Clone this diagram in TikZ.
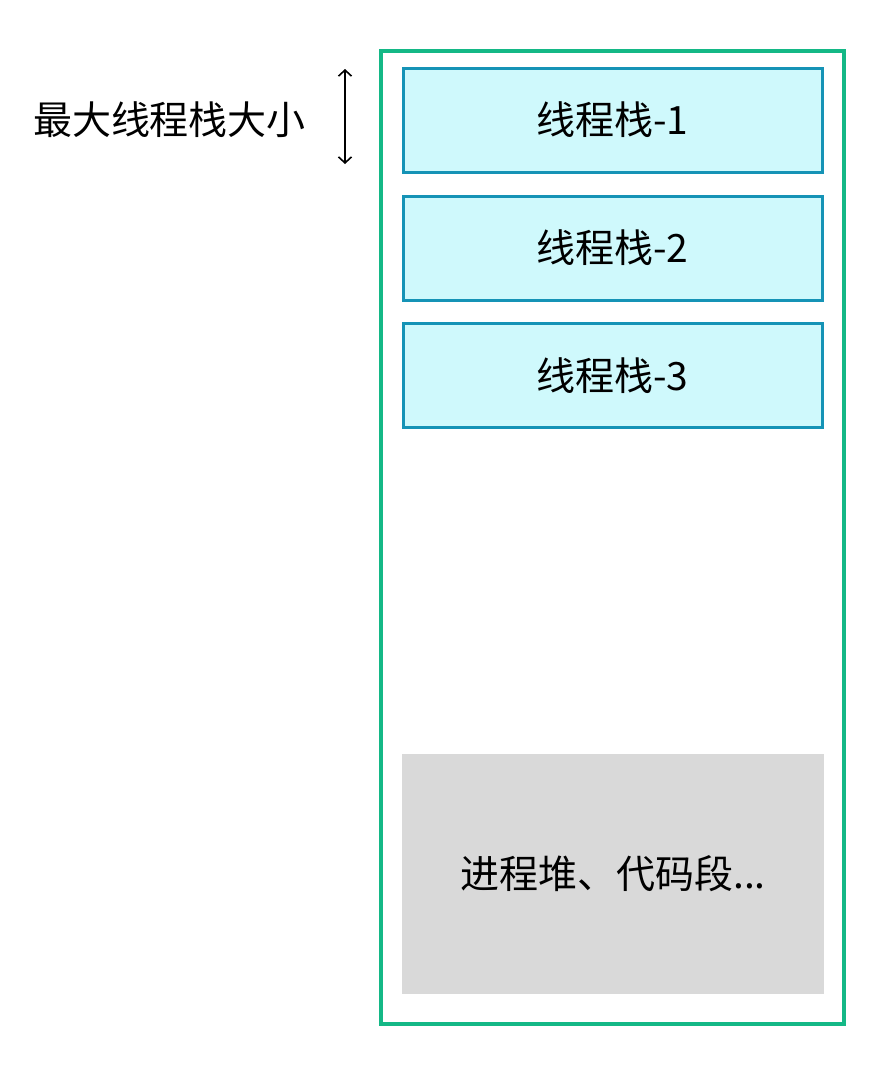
\documentclass[tikz,border=0pt]{standalone}
\usepackage{fontspec}
\setmainfont{Noto Sans CJK SC}
\usetikzlibrary{arrows.meta}
\definecolor{outergreen}{RGB}{20,184,134}
\definecolor{stackblue}{RGB}{21,147,182}
\definecolor{stackfill}{RGB}{207,249,252}
\definecolor{heapgray}{RGB}{217,217,217}
\tikzset{
  stackbox/.style={draw=stackblue, line width=3pt, fill=stackfill, minimum width=419pt, minimum height=104pt, inner sep=0pt, font=\fontsize{39}{44}\selectfont},
  heapbox/.style={fill=heapgray, minimum width=422pt, minimum height=240pt, inner sep=0pt, font=\fontsize{39}{44}\selectfont},
  lbl/.style={inner sep=0pt, font=\fontsize{39}{44}\selectfont}
}
\begin{document}
\begin{tikzpicture}[x=1pt,y=-1pt]
\useasboundingbox (0,0) rectangle (896,1074);
\fill[white] (0,0) rectangle (896,1074);
\node[draw=outergreen, line width=3.5pt, minimum width=463pt, minimum height=973pt, inner sep=0pt] (proc) at (612.5,537.5) {};
\node[stackbox] (s1) at (612.5,120) {线程栈-1};
\node[stackbox] (s2) at (612.5,248) {线程栈-2};
\node[stackbox] (s3) at (612.5,375.5) {线程栈-3};
\node[heapbox] (heap) at (613,874) {进程堆、代码段...};
\node[lbl] (max) at (169.5,120) {最大线程栈大小};
\coordinate (at) at (345,69);
\coordinate (ab) at (345,164);
\draw[line width=1.6pt, {Straight Barb[length=6pt,width=13pt]}-{Straight Barb[length=6pt,width=13pt]}] (at) -- (ab);
\end{tikzpicture}
\end{document}
